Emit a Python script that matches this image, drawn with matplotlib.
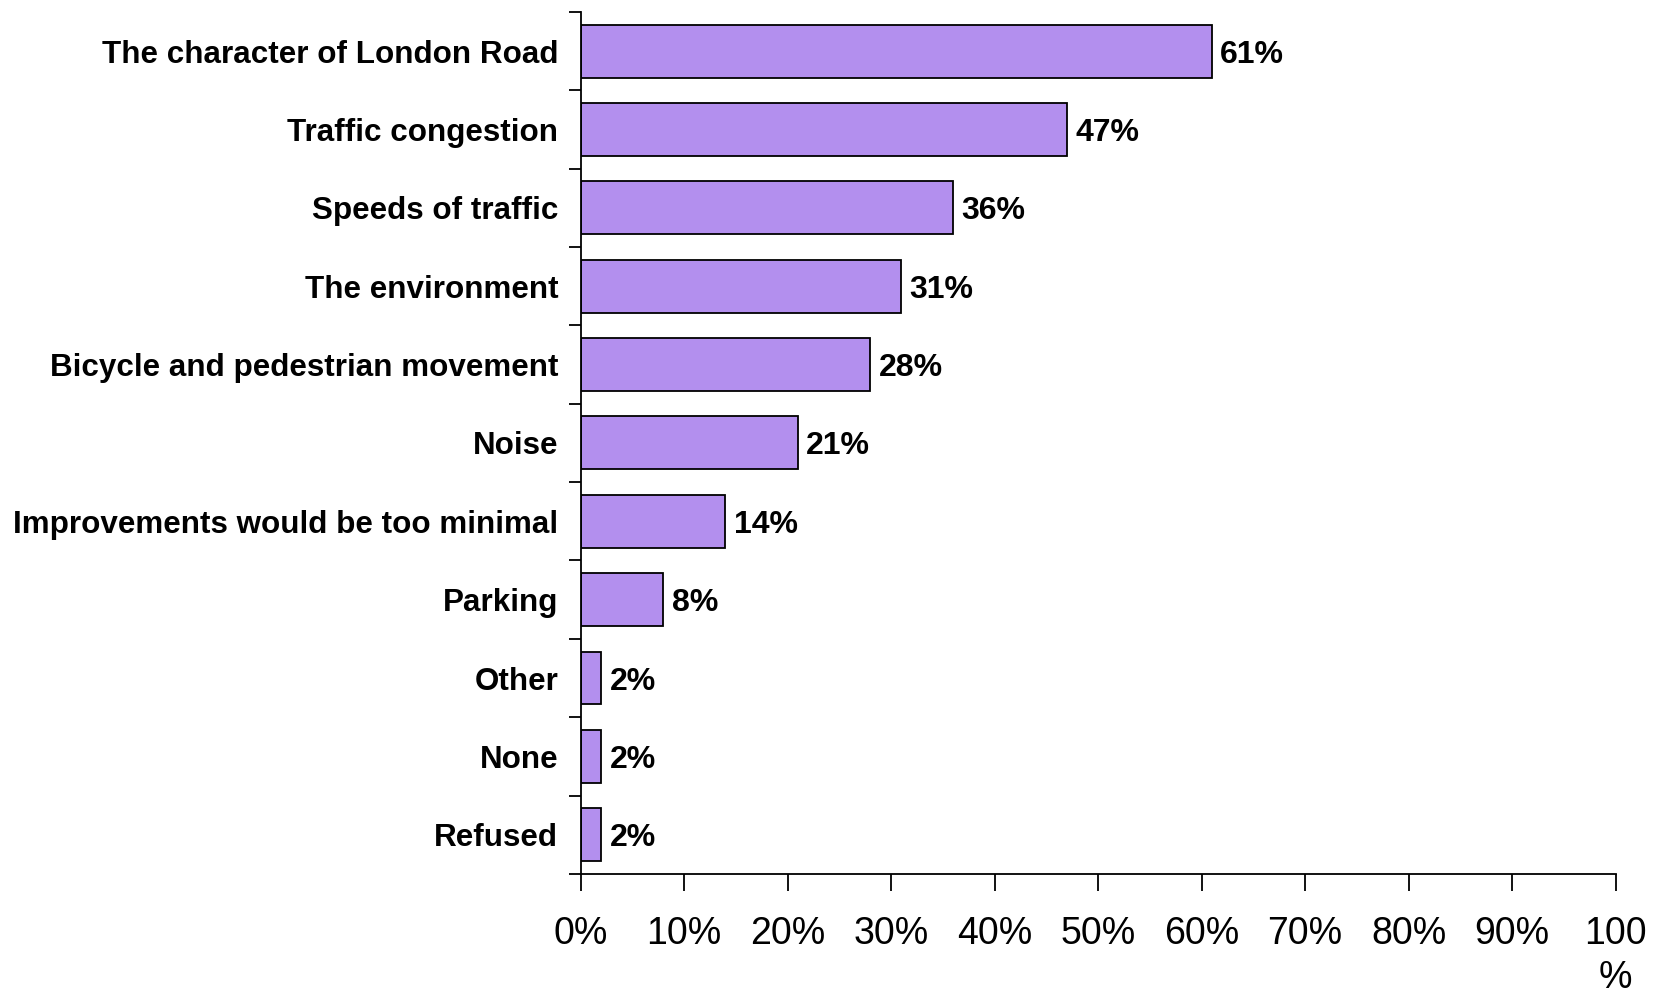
import numpy as np
from matplotlib import pyplot as plt

plt.rcParams['font.family'] = ['Liberation Sans', 'DejaVu Sans']

categories = ['The character of London Road', 'Traffic congestion', 'Speeds of traffic',
              'The environment', 'Bicycle and pedestrian movement', 'Noise',
              'Improvements would be too minimal', 'Parking', 'Other', 'None', 'Refused']
values = [61, 47, 36, 31, 28, 21, 14, 8, 2, 2, 2]
xticks = [0, 10, 20, 30, 40, 50, 60, 70, 80, 90, 100]
xtick_labels = ['0%', '10%', '20%', '30%', '40%', '50%', '60%', '70%', '80%', '90%', '100\n%']

fig = plt.figure(figsize=(16.54, 9.92), dpi=100)
ax = fig.add_axes([0.351, 0.119, 0.9768 - 0.351, 0.988 - 0.119])

y = np.arange(len(categories))
ax.barh(y, values, height=0.675, color='#b38fee', edgecolor='black', linewidth=1.3)

for yi, v in zip(y, values):
    ax.text(v + 0.8, yi, '%d%%' % v, va='center_baseline', ha='left',
            fontsize=23, fontweight='bold')

ax.set_xlim(0, 100)
ax.set_ylim(len(categories) - 0.5, -0.5)

# ticks at category boundaries, labels at centres
ax.set_yticks(np.arange(-0.5, len(categories), 1.0))
ax.set_yticklabels([])
ax.set_yticks(y, minor=True)
ax.set_yticklabels(categories, minor=True, fontsize=22.6, fontweight='bold')
ax.tick_params(axis='y', which='minor', length=0, pad=16)
ax.tick_params(axis='y', which='major', length=9, width=1.3, direction='out')

ax.set_xticks(xticks)
ax.set_xticklabels(xtick_labels, fontsize=27, linespacing=1.3)
ax.tick_params(axis='x', length=12, width=1.3, direction='out', pad=18)

ax.spines['top'].set_visible(False)
ax.spines['right'].set_visible(False)
ax.spines['left'].set_linewidth(1.3)
ax.spines['bottom'].set_linewidth(1.3)

fig.savefig('out.png', dpi=100)
